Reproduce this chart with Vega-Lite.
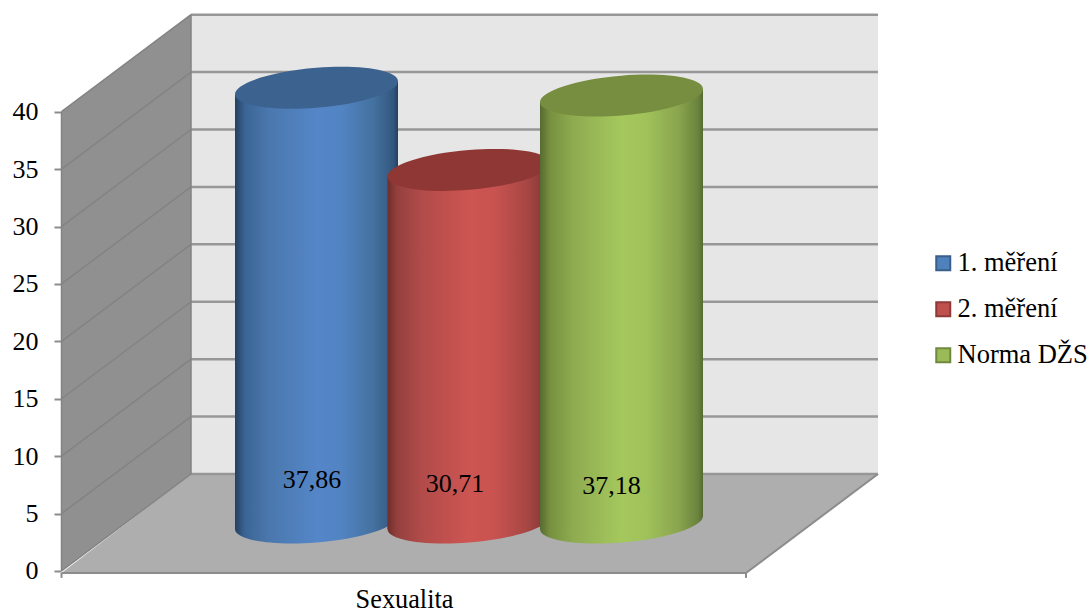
{
"$schema":"https://vega.github.io/schema/vega-lite/v6.json",
"width":1088,"height":613,"padding":0,"autosize":{"type":"none"},"background":"white",
"config":{"view":{"stroke":null},"font":"Liberation Serif","locale":{"number":{"decimal":",","thousands":" ","grouping":[3],"currency":["","\u00a0Kč"]}}},
"datasets":{
 "mereni":[
  {"kategorie":"Sexualita","serie":"1. měření","hodnota":37.86},
  {"kategorie":"Sexualita","serie":"2. měření","hodnota":30.71},
  {"kategorie":"Sexualita","serie":"Norma DŽS","hodnota":37.18}],
 "stena_cary":[
  {"x":0,"x2":0.1892,"y":5,"y2":13.45},{"x":0,"x2":0.1892,"y":10,"y2":18.45},{"x":0,"x2":0.1892,"y":15,"y2":23.45},{"x":0,"x2":0.1892,"y":20,"y2":28.45},
  {"x":0,"x2":0.1892,"y":25,"y2":33.45},{"x":0,"x2":0.1892,"y":30,"y2":38.45},{"x":0,"x2":0.1892,"y":35,"y2":43.45},{"x":0,"x2":0.1892,"y":40,"y2":48.45},
  {"x":0,"x2":0.1892,"y":0,"y2":8.45},{"x":0,"x2":0,"y":0,"y2":40},{"x":0.1892,"x2":0.1892,"y":8.45,"y2":48.45}],
 "zadni_cary":[
  {"x":0.1892,"x2":1.1928,"y":8.45},{"x":0.1892,"x2":1.1928,"y":13.45},{"x":0.1892,"x2":1.1928,"y":18.45},{"x":0.1892,"x2":1.1928,"y":23.45},{"x":0.1892,"x2":1.1928,"y":28.45},
  {"x":0.1892,"x2":1.1928,"y":33.45},{"x":0.1892,"x2":1.1928,"y":38.45},{"x":0.1892,"x2":1.1928,"y":43.45},{"x":0.1892,"x2":1.1928,"y":48.45}],
 "podlaha_cary":[
  {"x":0,"x2":1,"y":-0.17,"y2":-0.17},{"x":1,"x2":1.1928,"y":-0.17,"y2":8.45},
  {"x":0,"x2":0,"y":-0.17,"y2":-0.6},{"x":1,"x2":1,"y":-0.17,"y2":-0.6}]
},
"resolve":{"scale":{"x":"independent"},"axis":{"x":"independent"}},
"layer":[
 {"layer":[
  {"data":{"values":[{"x":0.1892,"x2":1.1928,"y":8.45,"y2":48.45}]},
   "mark":{"type":"rect","fill":"#E6E6E6"},
   "encoding":{
    "x":{"field":"x","type":"quantitative","axis":null,"scale":{"domain":[-0.08985,1.49963],"nice":false,"zero":false}},
    "x2":{"field":"x2"},
    "y":{"field":"y","type":"quantitative","title":null,
     "scale":{"domain":[-3.658,49.73],"nice":false,"zero":false},
     "axis":{"values":[0,5,10,15,20,25,30,35,40],"offset":-61,"grid":false,"domain":false,"tickSize":7,"tickWidth":2,"tickColor":"#8C8C8C","labelFontSize":26,"labelColor":"#000000","labelFont":"Liberation Serif","labelPadding":16,"labelBaseline":"middle"}},
    "y2":{"field":"y2"}}},
  {"data":{"values":[{"x":0,"y":0,"y2":40},{"x":0.1892,"y":8.45,"y2":48.45}]},
   "mark":{"type":"area","fill":"#909090","orient":"vertical"},
   "encoding":{"x":{"field":"x","type":"quantitative"},"y":{"field":"y","type":"quantitative"},"y2":{"field":"y2"}}},
  {"data":{"values":[{"y":-0.17,"x":0,"x2":1},{"y":8.45,"x":0.1892,"x2":1.1928}]},
   "mark":{"type":"area","fill":"#AEAEAE","orient":"horizontal"},
   "encoding":{"y":{"field":"y","type":"quantitative"},"x":{"field":"x","type":"quantitative"},"x2":{"field":"x2"}}},
  {"data":{"name":"zadni_cary"},
   "mark":{"type":"rule","stroke":"#979797","strokeWidth":2.5},
   "encoding":{"x":{"field":"x","type":"quantitative"},"x2":{"field":"x2"},"y":{"field":"y","type":"quantitative"}}},
  {"data":{"name":"stena_cary"},
   "mark":{"type":"rule","stroke":"#838383","strokeWidth":1.5},
   "encoding":{"x":{"field":"x","type":"quantitative"},"x2":{"field":"x2"},"y":{"field":"y","type":"quantitative"},"y2":{"field":"y2"}}},
  {"data":{"name":"podlaha_cary"},
   "mark":{"type":"rule","stroke":"#8C8C8C","strokeWidth":2},
   "encoding":{"x":{"field":"x","type":"quantitative"},"x2":{"field":"x2"},"y":{"field":"y","type":"quantitative"},"y2":{"field":"y2"}}}
 ]},
 {"data":{"name":"mereni"},
  "mark":{"type":"point","filled":true,"opacity":0},
  "encoding":{
   "x":{"field":"kategorie","type":"nominal","scale":{"domain":["Sexualita"],"range":[240.25,697.75],"paddingInner":0,"paddingOuter":0},
    "axis":{"title":null,"orient":"bottom","labelAngle":0,"ticks":false,"domain":false,"offset":-40,"labelOffset":-65,"labelPadding":13,"labelFontSize":26.3,"labelColor":"#000000","labelFont":"Liberation Serif"}},
   "y":{"datum":0,"type":"quantitative"},
   "color":{"field":"serie","type":"nominal","title":null,
    "scale":{"domain":["1. měření","2. měření","Norma DŽS"],"range":["#4F81BD","#C0504D","#9BBB59"]},
    "legend":{"orient":"none","legendX":930,"legendY":250,"symbolType":"square","symbolSize":196,"symbolOpacity":1,"symbolStrokeWidth":2,"labelFontSize":26.5,"labelColor":"#000000","labelFont":"Liberation Serif","labelOffset":1,"labelLimit":200,"rowPadding":19,"padding":0,
     "encode":{"symbols":{"update":{"stroke":{"signal":"datum.value === '1. měření' ? '#3A5F8B' : datum.value === '2. měření' ? '#8E3A38' : '#71893F'"}}}}}}}},
 {"data":{"name":"mereni"},
  "transform":[{"filter":"datum.serie === '1. měření'"}],
  "resolve":{"scale":{"xOffset":"independent"}},
  "encoding":{
   "x":{"field":"kategorie","type":"nominal","axis":null,"scale":{"domain":["Sexualita"],"range":[240.25,697.75],"paddingInner":0,"paddingOuter":0}}},
  "layer":[
   {"mark":{"type":"point","filled":true,"size":26569,"opacity":1,"yOffset":-48.5,"shape":"M1,-.08C1,.0553,.5523,.2008,0,.245C-.5523,.2892,-1,.2153,-1,.08C-1,-.0553,-.5523,-.2008,0,-.245C.5523,-.2892,1,-.2153,1,-.08Z",
     "fill":{"gradient":"linear","x1":0,"x2":1,"y1":0,"y2":0,"stops":[{"offset":0,"color":"#24405F"},{"offset":0.06,"color":"#3A6495"},{"offset":0.2,"color":"#4A77AC"},{"offset":0.5,"color":"#5486C8"},{"offset":0.65,"color":"#5284C4"},{"offset":0.85,"color":"#44719F"},{"offset":0.97,"color":"#33587F"},{"offset":1,"color":"#24405F"}]}},
    "encoding":{"y":{"datum":0,"type":"quantitative"},"xOffset":{"field":"serie","type":"nominal","scale":{"type":"point","domain":["1. měření","2. měření","Norma DŽS"],"range":[76.25,381.25],"padding":0}}}},
   {"mark":{"type":"bar","width":82,"yOffset":-42,"y2Offset":-42,
     "fill":{"gradient":"linear","x1":0,"x2":1,"y1":0,"y2":0,"stops":[{"offset":0,"color":"#24405F"},{"offset":0.12,"color":"#3A6495"},{"offset":0.4,"color":"#4A77AC"},{"offset":1,"color":"#5486C8"}]}},
    "encoding":{"y":{"field":"hodnota","type":"quantitative"},"y2":{"datum":0},"xOffset":{"field":"serie","type":"nominal","scale":{"domain":["1. měření","2. měření","Norma DŽS"],"range":[-40.5,417],"paddingInner":0,"paddingOuter":0}}}},
   {"mark":{"type":"bar","width":81.5,"yOffset":-55,"y2Offset":-55,
     "fill":{"gradient":"linear","x1":0,"x2":1,"y1":0,"y2":0,"stops":[{"offset":0,"color":"#5486C8"},{"offset":0.3,"color":"#5284C4"},{"offset":0.7,"color":"#44719F"},{"offset":0.94,"color":"#33587F"},{"offset":1,"color":"#24405F"}]}},
    "encoding":{"y":{"field":"hodnota","type":"quantitative"},"y2":{"datum":0},"xOffset":{"field":"serie","type":"nominal","scale":{"domain":["1. měření","2. měření","Norma DŽS"],"range":[40.75,498.25],"paddingInner":0,"paddingOuter":0}}}},
   {"mark":{"type":"point","filled":true,"size":26569,"opacity":1,"fill":"#3C628F","yOffset":-48.5,"shape":"M1,-.08C1,.0553,.5523,.2008,0,.245C-.5523,.2892,-1,.2153,-1,.08C-1,-.0553,-.5523,-.2008,0,-.245C.5523,-.2892,1,-.2153,1,-.08Z"},
    "encoding":{"y":{"field":"hodnota","type":"quantitative"},"xOffset":{"field":"serie","type":"nominal","scale":{"type":"point","domain":["1. měření","2. měření","Norma DŽS"],"range":[76.25,381.25],"padding":0}}}},
   {"mark":{"type":"text","fontSize":26,"font":"Liberation Serif","fill":"#000000","dx":-4.5},
    "encoding":{"y":{"datum":7.9,"type":"quantitative"},"text":{"field":"hodnota","type":"quantitative","format":".2f"},"xOffset":{"field":"serie","type":"nominal","scale":{"type":"point","domain":["1. měření","2. měření","Norma DŽS"],"range":[76.25,381.25],"padding":0}}}}
  ]},
 {"data":{"name":"mereni"},
  "transform":[{"filter":"datum.serie === '2. měření'"}],
  "resolve":{"scale":{"xOffset":"independent"}},
  "encoding":{
   "x":{"field":"kategorie","type":"nominal","axis":null,"scale":{"domain":["Sexualita"],"range":[240.25,697.75],"paddingInner":0,"paddingOuter":0}}},
  "layer":[
   {"mark":{"type":"point","filled":true,"size":26569,"opacity":1,"yOffset":-48.5,"shape":"M1,-.08C1,.0553,.5523,.2008,0,.245C-.5523,.2892,-1,.2153,-1,.08C-1,-.0553,-.5523,-.2008,0,-.245C.5523,-.2892,1,-.2153,1,-.08Z",
     "fill":{"gradient":"linear","x1":0,"x2":1,"y1":0,"y2":0,"stops":[{"offset":0,"color":"#6F2E2C"},{"offset":0.06,"color":"#94403E"},{"offset":0.2,"color":"#B04B49"},{"offset":0.5,"color":"#CD5552"},{"offset":0.65,"color":"#C95350"},{"offset":0.85,"color":"#A84744"},{"offset":0.97,"color":"#863836"},{"offset":1,"color":"#6F2E2C"}]}},
    "encoding":{"y":{"datum":0,"type":"quantitative"},"xOffset":{"field":"serie","type":"nominal","scale":{"type":"point","domain":["1. měření","2. měření","Norma DŽS"],"range":[76.25,381.25],"padding":0}}}},
   {"mark":{"type":"bar","width":82,"yOffset":-42,"y2Offset":-42,
     "fill":{"gradient":"linear","x1":0,"x2":1,"y1":0,"y2":0,"stops":[{"offset":0,"color":"#6F2E2C"},{"offset":0.12,"color":"#94403E"},{"offset":0.4,"color":"#B04B49"},{"offset":1,"color":"#CD5552"}]}},
    "encoding":{"y":{"field":"hodnota","type":"quantitative"},"y2":{"datum":0},"xOffset":{"field":"serie","type":"nominal","scale":{"domain":["1. měření","2. měření","Norma DŽS"],"range":[-40.5,417],"paddingInner":0,"paddingOuter":0}}}},
   {"mark":{"type":"bar","width":81.5,"yOffset":-55,"y2Offset":-55,
     "fill":{"gradient":"linear","x1":0,"x2":1,"y1":0,"y2":0,"stops":[{"offset":0,"color":"#CD5552"},{"offset":0.3,"color":"#C95350"},{"offset":0.7,"color":"#A84744"},{"offset":0.94,"color":"#863836"},{"offset":1,"color":"#6F2E2C"}]}},
    "encoding":{"y":{"field":"hodnota","type":"quantitative"},"y2":{"datum":0},"xOffset":{"field":"serie","type":"nominal","scale":{"domain":["1. měření","2. měření","Norma DŽS"],"range":[40.75,498.25],"paddingInner":0,"paddingOuter":0}}}},
   {"mark":{"type":"point","filled":true,"size":26569,"opacity":1,"fill":"#8F3735","yOffset":-48.5,"shape":"M1,-.08C1,.0553,.5523,.2008,0,.245C-.5523,.2892,-1,.2153,-1,.08C-1,-.0553,-.5523,-.2008,0,-.245C.5523,-.2892,1,-.2153,1,-.08Z"},
    "encoding":{"y":{"field":"hodnota","type":"quantitative"},"xOffset":{"field":"serie","type":"nominal","scale":{"type":"point","domain":["1. měření","2. měření","Norma DŽS"],"range":[76.25,381.25],"padding":0}}}},
   {"mark":{"type":"text","fontSize":26,"font":"Liberation Serif","fill":"#000000","dx":-14},
    "encoding":{"y":{"datum":7.6,"type":"quantitative"},"text":{"field":"hodnota","type":"quantitative","format":".2f"},"xOffset":{"field":"serie","type":"nominal","scale":{"type":"point","domain":["1. měření","2. měření","Norma DŽS"],"range":[76.25,381.25],"padding":0}}}}
  ]},
 {"data":{"name":"mereni"},
  "transform":[{"filter":"datum.serie === 'Norma DŽS'"}],
  "resolve":{"scale":{"xOffset":"independent"}},
  "encoding":{
   "x":{"field":"kategorie","type":"nominal","axis":null,"scale":{"domain":["Sexualita"],"range":[240.25,697.75],"paddingInner":0,"paddingOuter":0}}},
  "layer":[
   {"mark":{"type":"point","filled":true,"size":26569,"opacity":1,"yOffset":-48.5,"shape":"M1,-.08C1,.0553,.5523,.2008,0,.245C-.5523,.2892,-1,.2153,-1,.08C-1,-.0553,-.5523,-.2008,0,-.245C.5523,-.2892,1,-.2153,1,-.08Z",
     "fill":{"gradient":"linear","x1":0,"x2":1,"y1":0,"y2":0,"stops":[{"offset":0,"color":"#566A30"},{"offset":0.06,"color":"#76903F"},{"offset":0.2,"color":"#8EAB50"},{"offset":0.5,"color":"#A5C85D"},{"offset":0.65,"color":"#A0C25A"},{"offset":0.85,"color":"#8AA54E"},{"offset":0.97,"color":"#6A833D"},{"offset":1,"color":"#566A30"}]}},
    "encoding":{"y":{"datum":0,"type":"quantitative"},"xOffset":{"field":"serie","type":"nominal","scale":{"type":"point","domain":["1. měření","2. měření","Norma DŽS"],"range":[76.25,381.25],"padding":0}}}},
   {"mark":{"type":"bar","width":82,"yOffset":-42,"y2Offset":-42,
     "fill":{"gradient":"linear","x1":0,"x2":1,"y1":0,"y2":0,"stops":[{"offset":0,"color":"#566A30"},{"offset":0.12,"color":"#76903F"},{"offset":0.4,"color":"#8EAB50"},{"offset":1,"color":"#A5C85D"}]}},
    "encoding":{"y":{"field":"hodnota","type":"quantitative"},"y2":{"datum":0},"xOffset":{"field":"serie","type":"nominal","scale":{"domain":["1. měření","2. měření","Norma DŽS"],"range":[-40.5,417],"paddingInner":0,"paddingOuter":0}}}},
   {"mark":{"type":"bar","width":81.5,"yOffset":-55,"y2Offset":-55,
     "fill":{"gradient":"linear","x1":0,"x2":1,"y1":0,"y2":0,"stops":[{"offset":0,"color":"#A5C85D"},{"offset":0.3,"color":"#A0C25A"},{"offset":0.7,"color":"#8AA54E"},{"offset":0.94,"color":"#6A833D"},{"offset":1,"color":"#566A30"}]}},
    "encoding":{"y":{"field":"hodnota","type":"quantitative"},"y2":{"datum":0},"xOffset":{"field":"serie","type":"nominal","scale":{"domain":["1. měření","2. měření","Norma DŽS"],"range":[40.75,498.25],"paddingInner":0,"paddingOuter":0}}}},
   {"mark":{"type":"point","filled":true,"size":26569,"opacity":1,"fill":"#778E40","yOffset":-48.5,"shape":"M1,-.08C1,.0553,.5523,.2008,0,.245C-.5523,.2892,-1,.2153,-1,.08C-1,-.0553,-.5523,-.2008,0,-.245C.5523,-.2892,1,-.2153,1,-.08Z"},
    "encoding":{"y":{"field":"hodnota","type":"quantitative"},"xOffset":{"field":"serie","type":"nominal","scale":{"type":"point","domain":["1. měření","2. měření","Norma DŽS"],"range":[76.25,381.25],"padding":0}}}},
   {"mark":{"type":"text","fontSize":26,"font":"Liberation Serif","fill":"#000000","dx":-10},
    "encoding":{"y":{"datum":7.4,"type":"quantitative"},"text":{"field":"hodnota","type":"quantitative","format":".2f"},"xOffset":{"field":"serie","type":"nominal","scale":{"type":"point","domain":["1. měření","2. měření","Norma DŽS"],"range":[76.25,381.25],"padding":0}}}}
  ]}
]
}
